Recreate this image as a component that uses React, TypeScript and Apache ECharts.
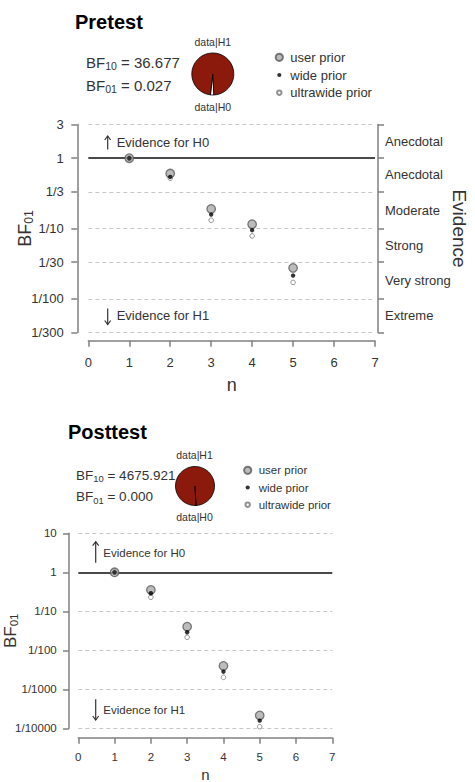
import React, { useEffect, useRef } from "react";
import * as echarts from "echarts";

// ---------- data ----------
const nValues = [1, 2, 3, 4, 5];

const preUser = [1, 0.605, 0.19, 0.115, 0.0275];
const preWide = [1, 0.542, 0.158, 0.0946, 0.0214];
const preUltra = [1, 0.52, 0.131, 0.0785, 0.0171];

const postUser = [1, 0.352, 0.0403, 0.00396, 0.000214];
const postWide = [1, 0.29, 0.029, 0.00283, 0.000157];
const postUltra = [1, 0.229, 0.0216, 0.00203, 0.00011];

const preTicks = [3, 1, 1 / 3, 1 / 10, 1 / 30, 1 / 100, 1 / 300];
const preTickLabels = ["3", "1", "1/3", "1/10", "1/30", "1/100", "1/300"];
const evidenceLabels = ["Anecdotal", "Anecdotal", "Moderate", "Strong", "Very strong", "Extreme"];

const postTicks = [10, 1, 1 / 10, 1 / 100, 1 / 1000, 1 / 10000];
const postTickLabels = ["10", "1", "1/10", "1/100", "1/1000", "1/10000"];

const legendNames = ["user prior", "wide prior", "ultrawide prior"];

const preBF10 = "36.677";
const preBF01 = "0.027";
const postBF10 = "4675.921";
const postBF01 = "0.000";
const prePie = [36.677, 1]; // data|H1, data|H0
const postPie = [4675.921, 1];

// ---------- helpers ----------
const FONT = "Liberation Sans, Arial, Helvetica, sans-serif";
const AXIS = "#808080";
const TXT = "#333333";

const nearestLabel = (ticks: number[], labels: string[]) => (v: number) => {
  let best = 0;
  let bd = Infinity;
  ticks.forEach((t, i) => {
    const d = Math.abs(Math.log10(t) - Math.log10(v));
    if (d < bd) {
      bd = d;
      best = i;
    }
  });
  return labels[best];
};

const preMids = preTicks.slice(0, -1).map((t, i) => Math.sqrt(t * preTicks[i + 1]));

const pts = (vals: number[]) => nValues.map((n, i) => [n, vals[i]]);

const userStyle = { color: "#ababab", borderColor: "#5a5a5a", borderWidth: 1.3 };
const wideStyle = { color: "#000000" };
const ultraStyle = { color: "#ffffff", borderColor: "#777777", borderWidth: 1 };

const circlePath = (r: number) =>
  `path://M0,0M12,8M${6 - r},4a${r},${r} 0 1,0 ${2 * r},0a${r},${r} 0 1,0 ${-2 * r},0z`;

function gridLines(ticks: number[]) {
  return ticks
    .filter((t) => Math.abs(t - 1) > 1e-9)
    .map((t) => ({ yAxis: t, lineStyle: { color: "#c8c8c8", width: 1, type: [4, 3] } }));
}

function scatterSeries(xi: number, yi: number, user: number[], wide: number[], ultra: number[], ticks: number[]) {
  const base = {
    type: "scatter",
    xAxisIndex: xi,
    yAxisIndex: yi,
    symbol: "circle",
    clip: false,
    emphasis: { disabled: true },
    silent: true,
  };
  return [
    {
      ...base,
      name: "user prior",
      z: 3,
      symbolSize: 8.5,
      itemStyle: userStyle,
      data: pts(user),
      markLine: {
        silent: true,
        symbol: "none",
        z: 1,
        precision: 10,
        label: { show: false },
        emphasis: { disabled: true },
        data: [
          ...gridLines(ticks),
          { yAxis: 1, lineStyle: { color: "#4a4a4a", width: 2, type: "solid" } },
        ],
      },
    },
    { ...base, name: "ultrawide prior", z: 4, symbolSize: 4.6, itemStyle: ultraStyle, data: pts(ultra) },
    { ...base, name: "wide prior", z: 5, symbolSize: 4.4, itemStyle: wideStyle, data: pts(wide) },
  ];
}

function pieSeries(center: number[], r: number, vals: number[]) {
  return {
    type: "pie",
    center,
    radius: r,
    startAngle: -87,
    clockwise: true,
    silent: true,
    label: { show: false },
    labelLine: { show: false },
    emphasis: { disabled: true },
    itemStyle: { borderColor: "#000", borderWidth: 0.8 },
    data: [
      { name: "data|H0", value: vals[1], itemStyle: { color: "#ffffff" } },
      { name: "data|H1", value: vals[0], itemStyle: { color: "#8b1a0c" } },
    ],
  };
}

function bfText(x: number, y: number, sub: string, val: string, fs: number) {
  return {
    type: "text",
    x,
    y,
    style: {
      text: `{b|BF}{s|${sub}}{b| = ${val}}`,
      verticalAlign: "middle",
      fill: TXT,
      rich: {
        b: { fontSize: fs, fontFamily: FONT, lineHeight: fs + 3, fill: TXT },
        s: { fontSize: fs * 0.7, fontFamily: FONT, lineHeight: 8, verticalAlign: "bottom", fill: TXT },
      },
    },
  };
}

function plainText(x: number, y: number, text: string, fs: number, align = "left", extra: any = {}) {
  return {
    type: "text",
    x,
    y,
    style: { text, fontSize: fs, fontFamily: FONT, fill: TXT, align, verticalAlign: "middle", ...extra },
  };
}

function arrow(x: number, y1: number, y2: number, up: boolean) {
  const tipY = up ? y1 : y2;
  const d = up ? 4 : -4;
  return {
    type: "group",
    children: [
      { type: "line", shape: { x1: x, y1, x2: x, y2 }, style: { stroke: TXT, lineWidth: 1.2 } },
      {
        type: "polyline",
        shape: { points: [[x - 3, tipY + d], [x, tipY], [x + 3, tipY + d]] },
        style: { stroke: TXT, lineWidth: 1.2, fill: null },
      },
    ],
  };
}

function legendCfg(left: number, top: number, fs: number, gap: number) {
  return {
    orient: "vertical",
    left,
    top,
    padding: 0,
    itemWidth: 12,
    itemHeight: 8,
    itemGap: gap,
    selectedMode: false,
    textStyle: { fontSize: fs, lineHeight: fs, color: TXT, fontFamily: FONT },
    data: [
      { name: legendNames[0], icon: circlePath(3.6) },
      { name: legendNames[1], icon: circlePath(2.1) },
      { name: legendNames[2], icon: circlePath(2.2) },
    ],
  };
}

export default function App() {
  const ref = useRef<HTMLDivElement>(null);
  useEffect(() => {
    if (!ref.current) return;
    const chart = echarts.init(ref.current, undefined, { renderer: "svg" });

    const xAxisCommon = (gi: number, off: number, fs: number, margin: number, nameGap: number, nameFs: number) => ({
      gridIndex: gi,
      type: "value",
      min: 0,
      max: 7,
      interval: 1,
      offset: off,
      axisLine: { show: true, onZero: false, lineStyle: { color: AXIS, width: 1.5 } },
      axisTick: { show: true, length: 6, lineStyle: { color: AXIS, width: 1.5 } },
      axisLabel: { fontSize: fs, color: TXT, margin, fontFamily: FONT },
      splitLine: { show: false },
      name: "n",
      nameLocation: "middle",
      nameGap,
      nameMoveOverlap: false,
      nameTextStyle: { fontSize: nameFs, color: TXT, fontFamily: FONT },
    });

    const bfName = (fs: number) => ({
      rich: {
        b: { fontSize: fs, fontFamily: FONT, color: TXT, lineHeight: fs + 2 },
        s: { fontSize: fs * 0.68, fontFamily: FONT, color: TXT, lineHeight: 8, verticalAlign: "bottom" },
      },
    });

    const preMin = (1 / 300) * 0.99;
    const preMax = 3 * 1.01;

    const option: any = {
      animation: false,
      textStyle: { fontFamily: FONT },
      grid: [
        { left: 88.3, top: 124.4, width: 286.7, height: 208.2, outerBoundsMode: "none" },
        { left: 78.3, top: 533.3, width: 254, height: 195, outerBoundsMode: "none" },
      ],
      legend: [legendCfg(272.3, 50.8, 13, 4.7), legendCfg(240.7, 464.3, 11.5, 5.2)],
      xAxis: [xAxisCommon(0, 8.1, 13, 15.5, 35, 18), xAxisCommon(1, 9.4, 11.5, 13.5, 29.5, 15)],
      yAxis: [
        {
          gridIndex: 0,
          type: "log",
          logBase: 10,
          min: preMin,
          max: preMax,
          position: "left",
          offset: 11,
          axisLine: { show: true, onZero: false, lineStyle: { color: AXIS, width: 1.5 } },
          axisTick: { show: true, length: 6, customValues: preTicks, lineStyle: { color: AXIS, width: 1.5 } },
          axisLabel: {
            customValues: preTicks,
            formatter: nearestLabel(preTicks, preTickLabels),
            fontSize: 13,
            color: TXT,
            margin: 13.5,
            fontFamily: FONT,
          },
          splitLine: { show: false },
          minorTick: { show: false },
          name: "{b|BF}{s|01}",
          nameLocation: "middle",
          nameRotate: 90,
          nameGap: 42,
          nameMoveOverlap: false,
          nameTextStyle: bfName(18),
        },
        {
          gridIndex: 0,
          type: "log",
          logBase: 10,
          min: preMin,
          max: preMax,
          position: "right",
          offset: 3,
          axisLine: { show: true, onZero: false, lineStyle: { color: AXIS, width: 1.5 } },
          axisTick: { show: true, length: 6, customValues: preTicks, lineStyle: { color: AXIS, width: 1.5 } },
          axisLabel: {
            customValues: preMids,
            formatter: nearestLabel(preMids, evidenceLabels),
            fontSize: 13,
            color: TXT,
            margin: 7,
            fontFamily: FONT,
          },
          splitLine: { show: false },
          minorTick: { show: false },
          name: "Evidence",
          nameLocation: "middle",
          nameRotate: -90,
          nameGap: 71.5,
          nameMoveOverlap: false,
          nameTextStyle: { fontSize: 19, color: TXT, fontFamily: FONT },
        },
        {
          gridIndex: 1,
          type: "log",
          logBase: 10,
          min: 1e-4 * 0.999,
          max: 10 * 1.001,
          position: "left",
          offset: 9.3,
          axisLine: { show: true, onZero: false, lineStyle: { color: AXIS, width: 1.5 } },
          axisTick: { show: true, length: 6, customValues: postTicks, lineStyle: { color: AXIS, width: 1.5 } },
          axisLabel: {
            customValues: postTicks,
            formatter: nearestLabel(postTicks, postTickLabels),
            fontSize: 11.5,
            color: TXT,
            margin: 12.3,
            fontFamily: FONT,
          },
          splitLine: { show: false },
          minorTick: { show: false },
          name: "{b|BF}{s|01}",
          nameLocation: "middle",
          nameRotate: 90,
          nameGap: 49,
          nameMoveOverlap: false,
          nameTextStyle: bfName(17),
        },
      ],
      series: [
        ...scatterSeries(0, 0, preUser, preWide, preUltra, preTicks),
        ...scatterSeries(1, 2, postUser, postWide, postUltra, postTicks),
        pieSeries([212.8, 74], 21, prePie),
        pieSeries([195, 486], 19.5, postPie),
      ],
      graphic: [
        plainText(75, 22, "Pretest", 20, "left", { fontWeight: "bold", fill: "#000" }),
        bfText(86, 62, "10", preBF10, 15),
        bfText(86, 85, "01", preBF01, 15),
        plainText(212.8, 42.3, "data|H1", 10.5, "center"),
        plainText(212.8, 107.3, "data|H0", 10.5, "center"),
        arrow(107.7, 136, 149.5, true),
        plainText(116.7, 142.3, "Evidence for H0", 13),
        arrow(107.7, 308.5, 324.5, false),
        plainText(116.7, 315.7, "Evidence for H1", 13),

        plainText(68, 432, "Posttest", 20, "left", { fontWeight: "bold", fill: "#000" }),
        bfText(76, 475, "10", postBF10, 13.5),
        bfText(76, 496.7, "01", postBF01, 13.5),
        plainText(194.5, 455, "data|H1", 10.5, "center"),
        plainText(194.5, 516.7, "data|H0", 10.5, "center"),
        arrow(95.7, 541.7, 562.7, true),
        plainText(103.3, 552.7, "Evidence for H0", 11.5),
        arrow(95.7, 699.3, 720, false),
        plainText(103.3, 710, "Evidence for H1", 11.5),
      ],
    };

    chart.setOption(option);
    return () => chart.dispose();
  }, []);

  return (
    <div
      ref={ref}
      style={{ position: "absolute", left: 0, top: 0, width: 475, height: 782, background: "#fff" }}
    />
  );
}
